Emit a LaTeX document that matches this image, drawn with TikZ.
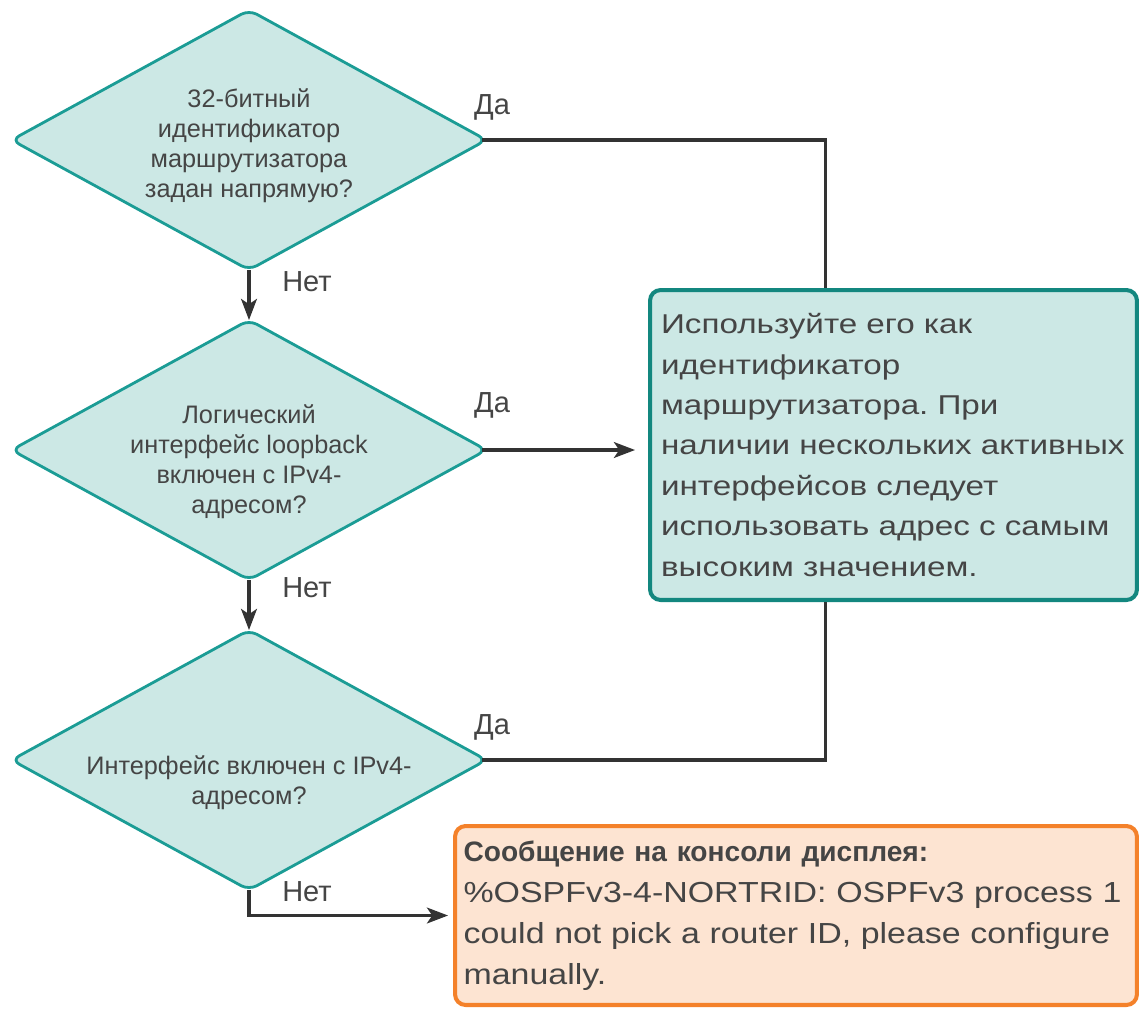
\documentclass[tikz,border=0pt]{standalone}
\usepackage{fontspec}
\setmainfont{Liberation Sans}
\newfontfamily\widefont[FakeStretch=1.22]{Liberation Sans}
\newfontfamily\msgfont[FakeStretch=1.17]{Liberation Sans}
\usetikzlibrary{shapes.geometric,arrows.meta,calc,positioning}
\definecolor{tealfill}{HTML}{CCE8E5}
\definecolor{tealline}{HTML}{1B9C95}
\definecolor{tealdark}{HTML}{13877F}
\definecolor{orfill}{HTML}{FDE4D2}
\definecolor{orline}{HTML}{F4812A}
\definecolor{wire}{HTML}{333333}
\definecolor{txtgray}{HTML}{454545}
\frenchspacing
\tikzset{
  decision/.style={diamond,draw=tealline,fill=tealfill,line width=1.6pt,rounded corners=5pt,
    aspect=1.83,minimum width=9.5cm,minimum height=5.2cm,inner sep=0pt,outer sep=0pt},
  qtext/.style={align=center,inner sep=0pt,text=txtgray,font=\fontsize{14.4}{17}\selectfont},
  action/.style={rectangle,draw=tealdark,fill=tealfill,line width=2.3pt,rounded corners=6pt,
    minimum width=9.74cm,minimum height=6.2cm,text width=9.3cm,inner xsep=0.22cm,align=left,
    text=txtgray,font=\widefont\fontsize{15.5}{23}\selectfont},
  alert/.style={rectangle,draw=orline,fill=orfill,line width=2.3pt,rounded corners=6pt,
    minimum width=13.64cm,minimum height=3.58cm,text width=13.3cm,inner xsep=0.17cm,align=left,
    text=txtgray,font=\msgfont\fontsize{16.5}{23.4}\selectfont},
  lbl/.style={text=txtgray,inner sep=0pt,font=\fontsize{16.5}{18}\selectfont},
  link/.style={draw=wire,line width=1.8pt},
  fromtip/.style={shorten <=-2.4pt}
}
\begin{document}
\begin{tikzpicture}[x=0.02cm,y=-0.02cm,>={Stealth[length=12pt,width=9pt,inset=3pt]}]
\useasboundingbox (0,0) rectangle (1140,1009);
% questions
\node[decision] at (249,140) (q1) {};
\node[decision] at (249,450) (q2) {};
\node[decision] at (249,760) (q3) {};
\node[qtext] at ($(q1)+(0,6)$) (q1t) {32-битный\\идентификатор\\маршрутизатора\\задан напрямую?};
\node[qtext] at ($(q2)+(0,12)$) (q2t) {Логический\\интерфейс loopback\\включен с IPv4-\\адресом?};
\node[qtext] at ($(q3)+(0,23)$) (q3t) {Интерфейс включен с IPv4-\\адресом?};
% results
\node[action] at (893.5,445) (use) {Используйте его как\\идентификатор\\маршрутизатора. При\\наличии нескольких активных\\интерфейсов следует\\использовать адрес с самым\\высоким значением.};
\node[alert] at (796,915.5) (msg) {{\normalfont\fontsize{16}{23.4}\selectfont\bfseries Сообщение на консоли дисплея:}\\\%OSPFv3-4-NORTRID: OSPFv3 process 1\\could not pick a router ID, please configure\\manually.};
% answers
\node[lbl] at (492,107) (yes1) {Да};
\node[lbl] at (492,405) (yes2) {Да};
\node[lbl] at (492,727) (yes3) {Да};
\node[lbl] at (307,282) (no1) {Нет};
\node[lbl] at (307,588) (no2) {Нет};
\node[lbl] at (307,892) (no3) {Нет};
% flow
\draw[link,->] (q1) -- (q2);
\draw[link,->] (q2) -- (q3);
\draw[link,fromtip] (q1.east) -| ($(use.north west)!0.361!(use.north east)$);
\draw[link,fromtip,->,shorten >=0.26cm] (q2.east) -- (q2.east -| use.west);
\draw[link,fromtip] (q3.east) -| ($(use.south west)!0.361!(use.south east)$);
\draw[link,->,shorten >=0.1cm] (q3.south) |- (msg.west);
\end{tikzpicture}
\end{document}
